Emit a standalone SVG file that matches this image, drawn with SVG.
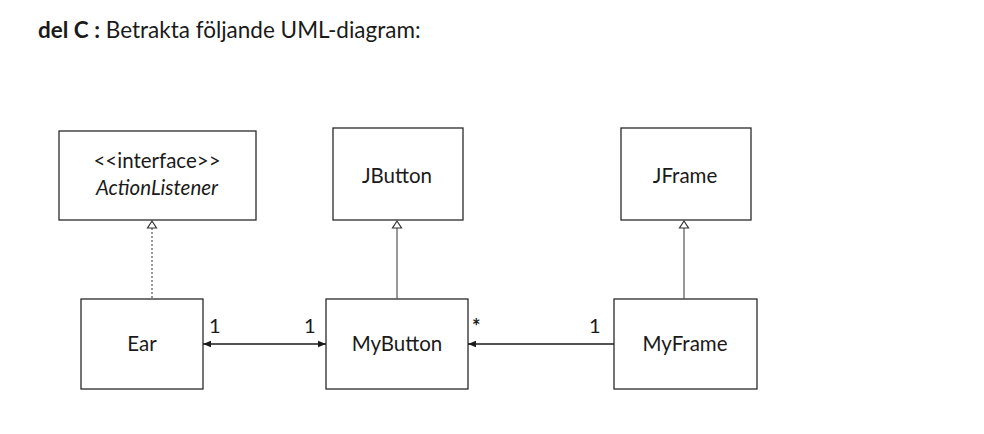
<svg xmlns="http://www.w3.org/2000/svg" width="984" height="434" viewBox="0 0 984 434">
  <defs>
    <style>
      .box { fill: #ffffff; stroke: #2a2a2a; stroke-width: 1.3; }
      .lbl { font-family: Lato, "Open Sans", sans-serif; font-size: 20.5px; fill: #1a1a1a; text-anchor: middle; }
      .mult { font-family: Lato, "Open Sans", sans-serif; font-size: 20px; fill: #1a1a1a; }
      .line { stroke: #1a1a1a; stroke-width: 1.3; fill: none; }
      .gen { stroke: #555555; stroke-width: 1.2; fill: none; }
      .tri { fill: #ffffff; stroke: #333333; stroke-width: 1.2; }
    </style>
    <marker id="head" viewBox="0 0 10 10" refX="10" refY="5" markerWidth="8" markerHeight="8" orient="auto-start-reverse" markerUnits="userSpaceOnUse">
      <path d="M0,1 L10,5 L0,9 Z" fill="#1a1a1a"/>
    </marker>
  </defs>
  <rect width="984" height="434" fill="#ffffff"/>

  <text x="38" y="38" font-family="Lato, 'Open Sans', sans-serif" font-size="22.5" fill="#1a1a1a"><tspan font-weight="bold">del C :</tspan> Betrakta följande UML-diagram:</text>

  <g id="actionlistener">
    <rect class="box" x="59" y="131" width="197" height="89"/>
    <text class="lbl" x="157" y="168">&lt;&lt;interface&gt;&gt;</text>
    <text class="lbl" x="157" y="195" font-style="italic">ActionListener</text>
  </g>
  <g id="jbutton">
    <rect class="box" x="333" y="128" width="130" height="92"/>
    <text class="lbl" x="397" y="183">JButton</text>
  </g>
  <g id="jframe">
    <rect class="box" x="621" y="128" width="130" height="92"/>
    <text class="lbl" x="685" y="183">JFrame</text>
  </g>
  <g id="ear">
    <rect class="box" x="81" y="299" width="122" height="90"/>
    <text class="lbl" x="142" y="351">Ear</text>
  </g>
  <g id="mybutton">
    <rect class="box" x="326" y="299" width="142" height="90"/>
    <text class="lbl" x="397" y="351">MyButton</text>
  </g>
  <g id="myframe">
    <rect class="box" x="614" y="299" width="143" height="90"/>
    <text class="lbl" x="685" y="351">MyFrame</text>
  </g>

  <g id="connectors">
    <!-- realization Ear -> ActionListener -->
    <line class="gen" x1="152" y1="228" x2="152" y2="299" stroke-dasharray="2,2"/>
    <path class="tri" d="M152,221 L156.5,228 L147.5,228 Z"/>
    <!-- generalization MyButton -> JButton -->
    <line class="gen" x1="397" y1="228" x2="397" y2="299"/>
    <path class="tri" d="M397,221 L401.5,228 L392.5,228 Z"/>
    <!-- generalization MyFrame -> JFrame -->
    <line class="gen" x1="684" y1="228" x2="684" y2="299"/>
    <path class="tri" d="M684,221 L688.5,228 L679.5,228 Z"/>
    <!-- association Ear <-> MyButton -->
    <line class="line" x1="203" y1="344" x2="326" y2="344" marker-start="url(#head)" marker-end="url(#head)"/>
    <!-- association MyFrame -> MyButton -->
    <line class="line" x1="614" y1="344" x2="468" y2="344" marker-end="url(#head)"/>
    <text class="mult" x="209" y="333">1</text>
    <text class="mult" x="304" y="333">1</text>
    <text class="mult" x="472" y="334" font-weight="bold">*</text>
    <text class="mult" x="589" y="333">1</text>
  </g>
</svg>
